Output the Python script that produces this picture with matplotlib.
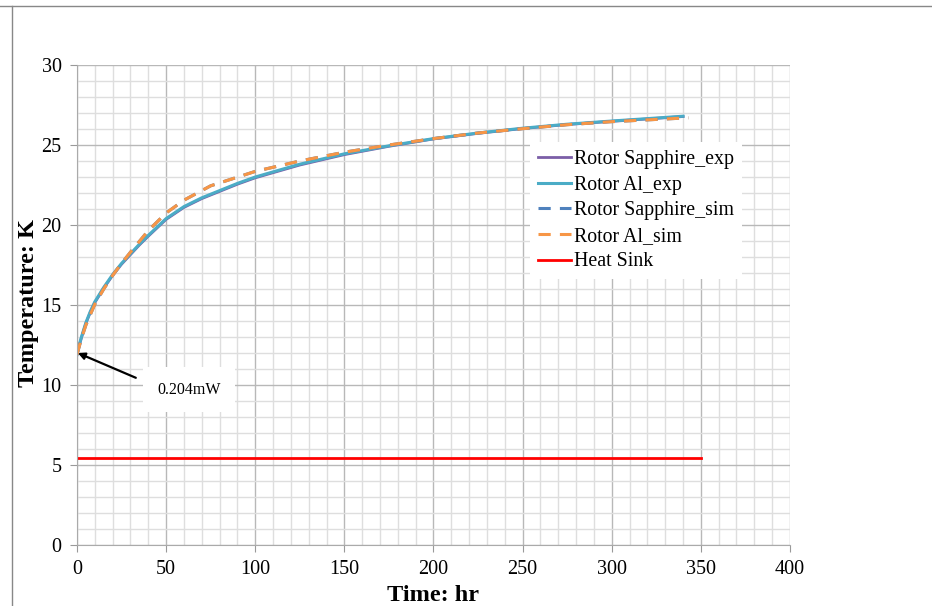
import matplotlib
matplotlib.use('Agg')
import matplotlib.pyplot as plt
from matplotlib.lines import Line2D

# data
time_exp = [0, 1, 2.5, 5, 7.5, 10, 15, 20, 25, 30, 35, 40, 50, 60, 70, 80, 90, 100, 125, 150, 175, 200, 225, 250, 275, 300, 320, 340]
sapphire_exp = [11.9, 12.35, 12.95, 13.85, 14.55, 15.15, 16.05, 16.85, 17.55, 18.15, 18.75, 19.3, 20.35, 21.1, 21.65, 22.1, 22.55, 22.95, 23.75, 24.4, 24.92, 25.38, 25.73, 26.03, 26.28, 26.48, 26.63, 26.78]
al_exp = [11.9, 12.4, 13.0, 13.9, 14.6, 15.2, 16.1, 16.9, 17.6, 18.2, 18.8, 19.35, 20.4, 21.15, 21.7, 22.15, 22.6, 23.0, 23.8, 24.45, 24.95, 25.4, 25.75, 26.05, 26.3, 26.5, 26.65, 26.8]

time_sim = [0, 2.5, 5, 10, 15, 20, 25, 30, 40, 50, 60, 75, 100, 125, 150, 175, 200, 225, 250, 275, 300, 325, 343]
sapphire_sim = [11.9, 12.9, 13.75, 15.05, 16.0, 16.85, 17.6, 18.3, 19.65, 20.75, 21.55, 22.45, 23.35, 24.0, 24.55, 25.0, 25.4, 25.75, 26.02, 26.27, 26.46, 26.6, 26.7]
al_sim = [11.9, 12.9, 13.75, 15.05, 16.0, 16.85, 17.6, 18.3, 19.65, 20.75, 21.55, 22.45, 23.35, 24.0, 24.55, 25.0, 25.4, 25.75, 26.02, 26.27, 26.46, 26.6, 26.7]

time_sink = [0, 350]
heat_sink = [5.45, 5.45]

plt.rcParams['font.family'] = ['Liberation Serif', 'DejaVu Serif']

fig = plt.figure(figsize=(9.32, 6.06), dpi=100)
ax = fig.add_axes([0.0826, 0.1007, 0.765, 0.792])

ax.plot(time_exp, sapphire_exp, color='#7b5ea7', lw=2, label='Rotor Sapphire_exp')
ax.plot(time_exp, al_exp, color='#4bacc6', lw=2.2, label='Rotor Al_exp')
ax.plot(time_sim, sapphire_sim, color='#4f81bd', lw=2.2, ls=(0, (4, 3)), label='Rotor Sapphire_sim')
ax.plot(time_sim, al_sim, color='#f79646', lw=2.2, ls=(0, (4, 3)), label='Rotor Al_sim')
ax.plot(time_sink, heat_sink, color='#ff0000', lw=2, label='Heat Sink')

ax.set_xlim(0, 400)
ax.set_ylim(0, 30)
ax.set_xticks(range(0, 401, 50))
ax.set_yticks(range(0, 31, 5))
ax.set_xticks(range(0, 401, 10), minor=True)
ax.set_yticks(range(0, 31, 1), minor=True)
ax.grid(which='major', color='#b8b8b8', lw=1)
ax.grid(which='minor', color='#dedede', lw=1)
ax.set_axisbelow(True)
ax.tick_params(which='major', direction='out', length=5, color='#999999', labelsize=14.5, pad=6)
ax.tick_params(which='minor', length=0)
for s in ['top', 'right']:
    ax.spines[s].set_visible(False)
for s in ['left', 'bottom']:
    ax.spines[s].set_color('#aaaaaa')

ax.set_xlabel('Time: hr', fontsize=17.5, fontweight='bold', labelpad=4)
ax.set_ylabel('Temperature: K', fontsize=17.5, fontweight='bold')
ax.yaxis.set_label_coords(-0.053, 0.505)

ax.annotate('', xy=(0.5, 12.0), xytext=(33, 10.45),
            arrowprops=dict(arrowstyle='-|>', color='black', lw=1.6, mutation_scale=10,
                            shrinkA=0, shrinkB=0))
ax.text(63, 9.7, '0.204mW', fontsize=11.5, ha='center', va='center',
        bbox=dict(facecolor='white', edgecolor='none', boxstyle='square,pad=0.9'))

leg = ax.legend(loc='upper left', bbox_to_anchor=(0.635, 0.839), fontsize=14.3,
                frameon=True, edgecolor='none', facecolor='white', framealpha=1,
                fancybox=False, borderaxespad=0, borderpad=0.4,
                handlelength=1.7, handletextpad=0.15, labelspacing=0.33)

# page border lines
fig.add_artist(Line2D([0, 1], [1 - 6 / 606, 1 - 6 / 606], color='#888888', lw=1))
fig.add_artist(Line2D([12 / 932, 12 / 932], [0, 1 - 6 / 606], color='#888888', lw=1))

fig.savefig('out.png', dpi=100)
